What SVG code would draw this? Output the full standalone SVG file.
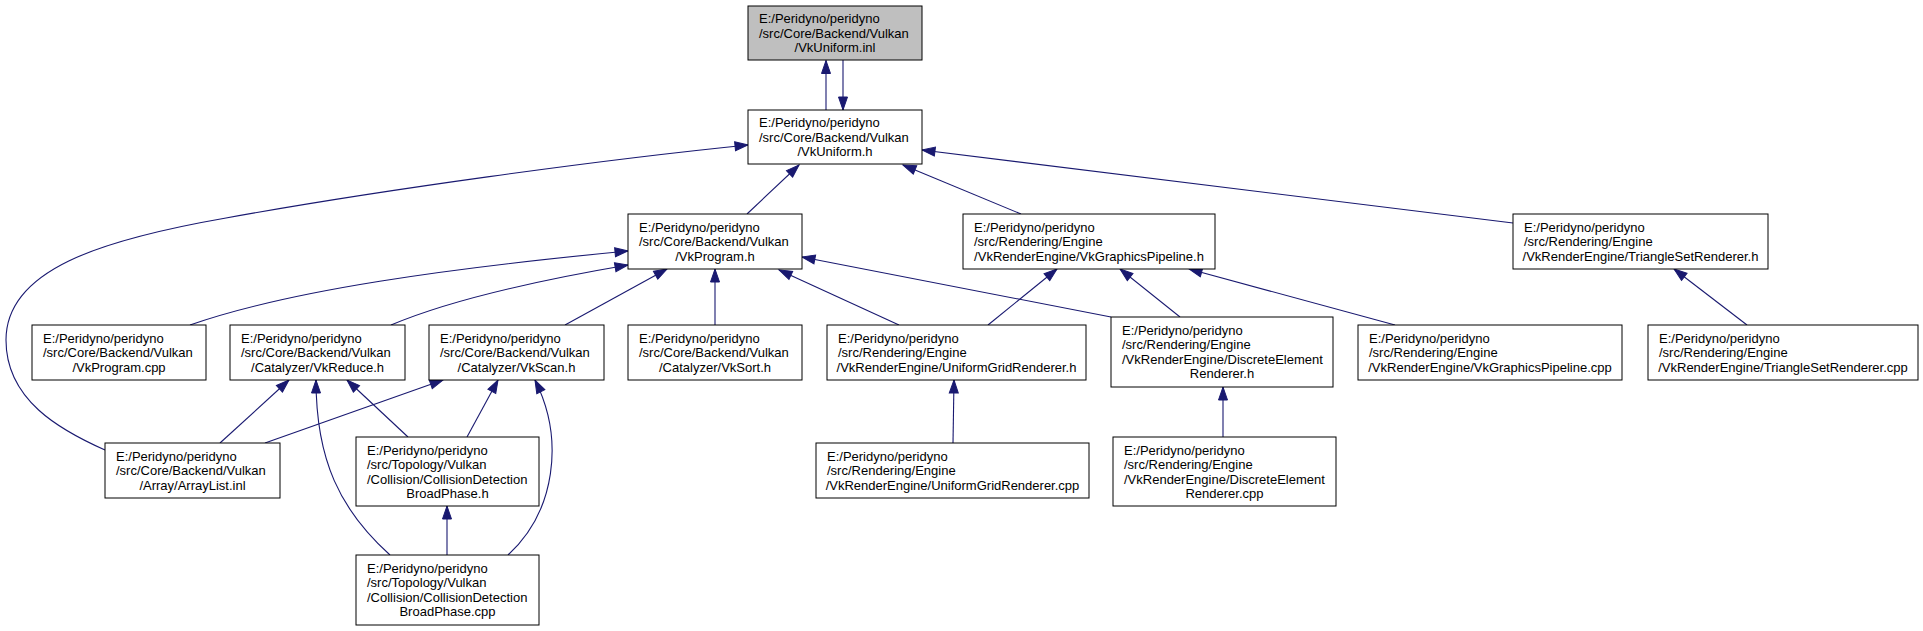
<svg xmlns="http://www.w3.org/2000/svg" width="1923" height="631" viewBox="0 0 1923 631">
<defs>
<marker id="ah" markerUnits="userSpaceOnUse" markerWidth="15" markerHeight="11" refX="13" refY="5" orient="auto" overflow="visible">
<path d="M0,0.5 L13,5 L0,9.5 Z" fill="#191970" stroke="#191970" stroke-width="1"/>
</marker>
</defs>
<style>
.n rect{fill:#fff;stroke:#000;stroke-width:1}
.n.root rect{fill:#bfbfbf}
.n text{font-family:"Liberation Sans",Arial,sans-serif;font-size:13px;fill:#000}
.m{text-anchor:middle}
#edges path{fill:none;stroke:#191970;stroke-width:1.1;marker-end:url(#ah)}
</style>
<rect width="1923" height="631" fill="#fff"/>
<g id="edges">
<path d="M826,110 L826,60.5"/>
<path d="M843,60 L843,110"/>
<path d="M747,214 L799,165"/>
<path d="M1021,214 L903,165"/>
<path d="M1513,223 L922,150"/>
<path d="M105,450 C60,430 6,400 6,340 C6,270 100,240 226,218 C380,190 600,160 748,145"/>
<path d="M190,325 C290,290 450,268 628,251"/>
<path d="M391,325 C450,300 540,280 628,265"/>
<path d="M565,325 L667,269"/>
<path d="M715,325 L715,269"/>
<path d="M899,325 L779,270"/>
<path d="M1111,317 L802,257"/>
<path d="M988,325 L1057,269"/>
<path d="M1180,317 L1120,269"/>
<path d="M1395,325 L1189,269"/>
<path d="M1747,325 L1674,269"/>
<path d="M220,443 L289,380"/>
<path d="M265,443 L443,380"/>
<path d="M390,555 C340,510 316,460 316,380"/>
<path d="M408,437 L347,380"/>
<path d="M467,437 L498,380"/>
<path d="M508,555 C555,512 565,440 535,380"/>
<path d="M447,555 L447,506"/>
<path d="M953,443 L954,380"/>
<path d="M1223,437 L1223,387"/>
</g>
<g id="n0" class="n root"><rect x="748" y="6" width="174" height="54"/><text x="759" y="23">E:/Peridyno/peridyno</text><text x="759" y="37.5">/src/Core/Backend/Vulkan</text><text class="m" x="835" y="52">/VkUniform.inl</text></g>
<g id="n1" class="n"><rect x="748" y="110" width="174" height="54"/><text x="759" y="127">E:/Peridyno/peridyno</text><text x="759" y="141.5">/src/Core/Backend/Vulkan</text><text class="m" x="835" y="156">/VkUniform.h</text></g>
<g id="n2" class="n"><rect x="628" y="214" width="174" height="55"/><text x="639" y="231.5">E:/Peridyno/peridyno</text><text x="639" y="246">/src/Core/Backend/Vulkan</text><text class="m" x="715" y="260.5">/VkProgram.h</text></g>
<g id="n3" class="n"><rect x="963" y="214" width="252" height="55"/><text x="974" y="231.5">E:/Peridyno/peridyno</text><text x="974" y="246">/src/Rendering/Engine</text><text class="m" x="1089" y="260.5">/VkRenderEngine/VkGraphicsPipeline.h</text></g>
<g id="n4" class="n"><rect x="1513" y="214" width="255" height="55"/><text x="1524" y="231.5">E:/Peridyno/peridyno</text><text x="1524" y="246">/src/Rendering/Engine</text><text class="m" x="1640.5" y="260.5">/VkRenderEngine/TriangleSetRenderer.h</text></g>
<g id="n5" class="n"><rect x="32" y="325" width="174" height="55"/><text x="43" y="342.5">E:/Peridyno/peridyno</text><text x="43" y="357">/src/Core/Backend/Vulkan</text><text class="m" x="119" y="371.5">/VkProgram.cpp</text></g>
<g id="n6" class="n"><rect x="230" y="325" width="175" height="55"/><text x="241" y="342.5">E:/Peridyno/peridyno</text><text x="241" y="357">/src/Core/Backend/Vulkan</text><text class="m" x="317.5" y="371.5">/Catalyzer/VkReduce.h</text></g>
<g id="n7" class="n"><rect x="429" y="325" width="175" height="55"/><text x="440" y="342.5">E:/Peridyno/peridyno</text><text x="440" y="357">/src/Core/Backend/Vulkan</text><text class="m" x="516.5" y="371.5">/Catalyzer/VkScan.h</text></g>
<g id="n8" class="n"><rect x="628" y="325" width="174" height="55"/><text x="639" y="342.5">E:/Peridyno/peridyno</text><text x="639" y="357">/src/Core/Backend/Vulkan</text><text class="m" x="715" y="371.5">/Catalyzer/VkSort.h</text></g>
<g id="n9" class="n"><rect x="827" y="325" width="259" height="55"/><text x="838" y="342.5">E:/Peridyno/peridyno</text><text x="838" y="357">/src/Rendering/Engine</text><text class="m" x="956.5" y="371.5">/VkRenderEngine/UniformGridRenderer.h</text></g>
<g id="n10" class="n"><rect x="1111" y="317" width="222" height="70"/><text x="1122" y="334.5">E:/Peridyno/peridyno</text><text x="1122" y="349">/src/Rendering/Engine</text><text x="1122" y="363.5">/VkRenderEngine/DiscreteElement</text><text class="m" x="1222" y="378">Renderer.h</text></g>
<g id="n11" class="n"><rect x="1358" y="325" width="264" height="55"/><text x="1369" y="342.5">E:/Peridyno/peridyno</text><text x="1369" y="357">/src/Rendering/Engine</text><text class="m" x="1490" y="371.5">/VkRenderEngine/VkGraphicsPipeline.cpp</text></g>
<g id="n12" class="n"><rect x="1648" y="325" width="270" height="55"/><text x="1659" y="342.5">E:/Peridyno/peridyno</text><text x="1659" y="357">/src/Rendering/Engine</text><text class="m" x="1783" y="371.5">/VkRenderEngine/TriangleSetRenderer.cpp</text></g>
<g id="n13" class="n"><rect x="105" y="443" width="175" height="55"/><text x="116" y="460.5">E:/Peridyno/peridyno</text><text x="116" y="475">/src/Core/Backend/Vulkan</text><text class="m" x="192.5" y="489.5">/Array/ArrayList.inl</text></g>
<g id="n14" class="n"><rect x="356" y="437" width="183" height="69"/><text x="367" y="454.5">E:/Peridyno/peridyno</text><text x="367" y="469">/src/Topology/Vulkan</text><text x="367" y="483.5">/Collision/CollisionDetection</text><text class="m" x="447.5" y="498">BroadPhase.h</text></g>
<g id="n15" class="n"><rect x="816" y="443" width="273" height="55"/><text x="827" y="460.5">E:/Peridyno/peridyno</text><text x="827" y="475">/src/Rendering/Engine</text><text class="m" x="952.5" y="489.5">/VkRenderEngine/UniformGridRenderer.cpp</text></g>
<g id="n16" class="n"><rect x="1113" y="437" width="223" height="69"/><text x="1124" y="454.5">E:/Peridyno/peridyno</text><text x="1124" y="469">/src/Rendering/Engine</text><text x="1124" y="483.5">/VkRenderEngine/DiscreteElement</text><text class="m" x="1224.5" y="498">Renderer.cpp</text></g>
<g id="n17" class="n"><rect x="356" y="555" width="183" height="70"/><text x="367" y="572.5">E:/Peridyno/peridyno</text><text x="367" y="587">/src/Topology/Vulkan</text><text x="367" y="601.5">/Collision/CollisionDetection</text><text class="m" x="447.5" y="616">BroadPhase.cpp</text></g>
</svg>
